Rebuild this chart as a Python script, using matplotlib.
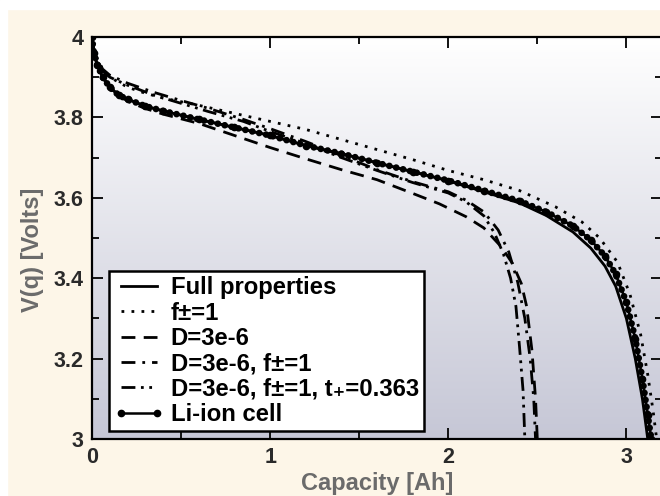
import matplotlib
matplotlib.use('Agg')
import matplotlib.pyplot as plt
import numpy as np
from matplotlib.patches import Rectangle

plt.rcParams['font.family'] = ['Liberation Sans', 'DejaVu Sans']
plt.rcParams['font.weight'] = 'bold'

# data
q_liion = [0, 0.01, 0.03, 0.06, 0.1, 0.15, 0.2, 0.3, 0.4, 0.6, 0.8, 1.0, 1.2, 1.4, 1.6,
           1.8, 2.0, 2.2, 2.4, 2.55, 2.7, 2.8, 2.88, 2.94, 3.0, 3.05, 3.09, 3.12, 3.14]
v_liion = [4.0, 3.96, 3.93, 3.9, 3.875, 3.855, 3.845, 3.828, 3.816, 3.795, 3.775, 3.755, 3.73, 3.71, 3.687,
           3.665, 3.643, 3.618, 3.592, 3.565, 3.53, 3.495, 3.455, 3.41, 3.34, 3.25, 3.15, 3.06, 3.0]

q_full = [0, 0.01, 0.03, 0.06, 0.1, 0.15, 0.2, 0.3, 0.4, 0.6, 0.8, 1.0, 1.2, 1.4, 1.6,
          1.8, 2.0, 2.2, 2.4, 2.55, 2.7, 2.8, 2.88, 2.94, 3.0, 3.05, 3.09, 3.12]
v_full = [4.0, 3.96, 3.93, 3.9, 3.875, 3.855, 3.845, 3.828, 3.816, 3.795, 3.775, 3.755, 3.73, 3.71, 3.687,
          3.665, 3.642, 3.615, 3.587, 3.556, 3.515, 3.475, 3.43, 3.38, 3.30, 3.2, 3.1, 3.0]

q_f1 = [0, 0.01, 0.03, 0.06, 0.1, 0.2, 0.3, 0.4, 0.6, 0.8, 1.0, 1.2, 1.4, 1.6, 1.8, 2.0,
        2.2, 2.4, 2.6, 2.75, 2.85, 2.95, 3.02, 3.08, 3.12, 3.15, 3.17]
v_f1 = [4.0, 3.97, 3.945, 3.92, 3.9, 3.875, 3.86, 3.848, 3.83, 3.81, 3.79, 3.77, 3.745, 3.72, 3.695, 3.668,
        3.645, 3.618, 3.578, 3.54, 3.5, 3.44, 3.36, 3.26, 3.16, 3.07, 3.0]

q_d = [0, 0.01, 0.03, 0.06, 0.1, 0.2, 0.3, 0.4, 0.6, 0.8, 1.0, 1.2, 1.4, 1.6, 1.8, 1.95,
       2.1, 2.2, 2.3, 2.36, 2.41, 2.44, 2.47, 2.49, 2.5]
v_d = [4.0, 3.96, 3.93, 3.9, 3.872, 3.84, 3.822, 3.808, 3.785, 3.755, 3.725, 3.697, 3.67, 3.645, 3.611, 3.585,
       3.553, 3.525, 3.477, 3.437, 3.387, 3.33, 3.22, 3.1, 3.0]

q_df = [0, 0.01, 0.03, 0.06, 0.1, 0.2, 0.35, 0.5, 0.65, 0.85, 1.0, 1.2, 1.4, 1.6, 1.8, 2.0,
        2.1, 2.2, 2.28, 2.34, 2.39, 2.43, 2.46, 2.48, 2.49]
v_df = [4.0, 3.97, 3.945, 3.92, 3.905, 3.885, 3.862, 3.842, 3.823, 3.795, 3.772, 3.74, 3.705, 3.67, 3.64, 3.615,
        3.594, 3.565, 3.52, 3.465, 3.39, 3.3, 3.2, 3.1, 3.0]

q_dft = [0, 0.01, 0.03, 0.06, 0.1, 0.2, 0.35, 0.5, 0.65, 0.85, 1.0, 1.2, 1.4, 1.6, 1.8, 2.0,
         2.1, 2.2, 2.26, 2.31, 2.35, 2.38, 2.4, 2.42, 2.43]
v_dft = [4.0, 3.965, 3.94, 3.915, 3.9, 3.88, 3.855, 3.835, 3.815, 3.79, 3.765, 3.735, 3.7, 3.668, 3.638, 3.612,
         3.59, 3.555, 3.512, 3.46, 3.4, 3.33, 3.23, 3.12, 3.0]

labels = ['Full properties', 'f\u00b1=1', 'D=3e-6', 'D=3e-6, f\u00b1=1',
          'D=3e-6, f\u00b1=1, t\u208a=0.363', 'Li-ion cell']

W, H = 660, 496
fig = plt.figure(figsize=(6.6, 4.96), dpi=100)
fig.patch.set_facecolor('#fdf6e8')
# white margin strips at top and left
fig.add_artist(Rectangle((0, 1 - 9 / H), 1, 9 / H, transform=fig.transFigure, color='white', zorder=-5))
fig.add_artist(Rectangle((0, 0), 7 / W, 1, transform=fig.transFigure, color='white', zorder=-5))

ax = fig.add_axes([92 / W, (H - 439) / H, 570 / W, 402 / H])

# vertical gradient background
top = np.array([1.0, 1.0, 1.0])
bot = np.array([0xc6, 0xc7, 0xd6]) / 255
t = np.linspace(0, 1, 256)[:, None]
grad = (top * (1 - t) + bot * t)[:, None, :]
ax.imshow(grad, extent=[0, 1, 0, 1], transform=ax.transAxes, aspect='auto', zorder=0)

lw = 2.0
ax.plot(q_full, v_full, color='black', lw=lw, ls='-', label=labels[0], zorder=3)
ax.plot(q_f1, v_f1, color='black', lw=lw, ls=(0, (1, 2.6)), label=labels[1], zorder=3)
ax.plot(q_d, v_d, color='black', lw=lw, ls=(0, (5, 3)), label=labels[2], zorder=3)
ax.plot(q_df, v_df, color='black', lw=lw, ls=(0, (5, 2.5, 1, 2.5)), label=labels[3], zorder=3)
ax.plot(q_dft, v_dft, color='black', lw=lw, ls=(0, (5, 2, 1, 2, 1, 2)), label=labels[4], zorder=3)
ax.plot(q_liion, v_liion, color='black', lw=1.8, marker='o', ms=4.5, label=labels[5], zorder=4)
# beaded look of the dense measured points
ax.plot(q_liion, v_liion, color='black', lw=4.8, ls=(0, (0.01, 1.05)),
        dash_capstyle='round', zorder=4)

ax.set_xlim(0, 3.2)
ax.set_ylim(3, 4)
ax.set_xticks([0, 1, 2, 3])
ax.set_xticks([0.5, 1.5, 2.5], minor=True)
ax.set_yticks([3, 3.2, 3.4, 3.6, 3.8, 4])
ax.set_yticks([3.1, 3.3, 3.5, 3.7, 3.9], minor=True)
ax.set_xticklabels(['0', '1', '2', '3'])
ax.set_yticklabels(['3', '3.2', '3.4', '3.6', '3.8', '4'])
ax.tick_params(which='both', direction='in', top=True, right=True, width=1.4,
               labelsize=15.5, labelcolor='#2a2a2a', color='#111111')
ax.tick_params(which='major', length=8, pad=6)
ax.tick_params(which='minor', length=5)
for s in ax.spines.values():
    s.set_linewidth(1.6)
    s.set_zorder(5)

ax.set_xlabel('Capacity [Ah]', fontsize=17, color='#6b6b6b', fontweight='bold')
ax.set_ylabel('V(q) [Volts]', fontsize=17, color='#6b6b6b', fontweight='bold')
ax.xaxis.set_label_coords(0.5, -0.082)
ax.yaxis.set_label_coords(-0.085, 0.47)

leg = ax.legend(loc='lower left', bbox_to_anchor=(0.03, 0.02), frameon=True, fancybox=False,
                framealpha=1, edgecolor='black', fontsize=17.2, handlelength=2.1,
                handletextpad=0.28, labelspacing=0.1, borderpad=0.2, borderaxespad=0,
                numpoints=2)
leg.get_frame().set_linewidth(1.8)
leg.set_zorder(6)

fig.savefig('out.png', dpi=100, facecolor=fig.get_facecolor())
